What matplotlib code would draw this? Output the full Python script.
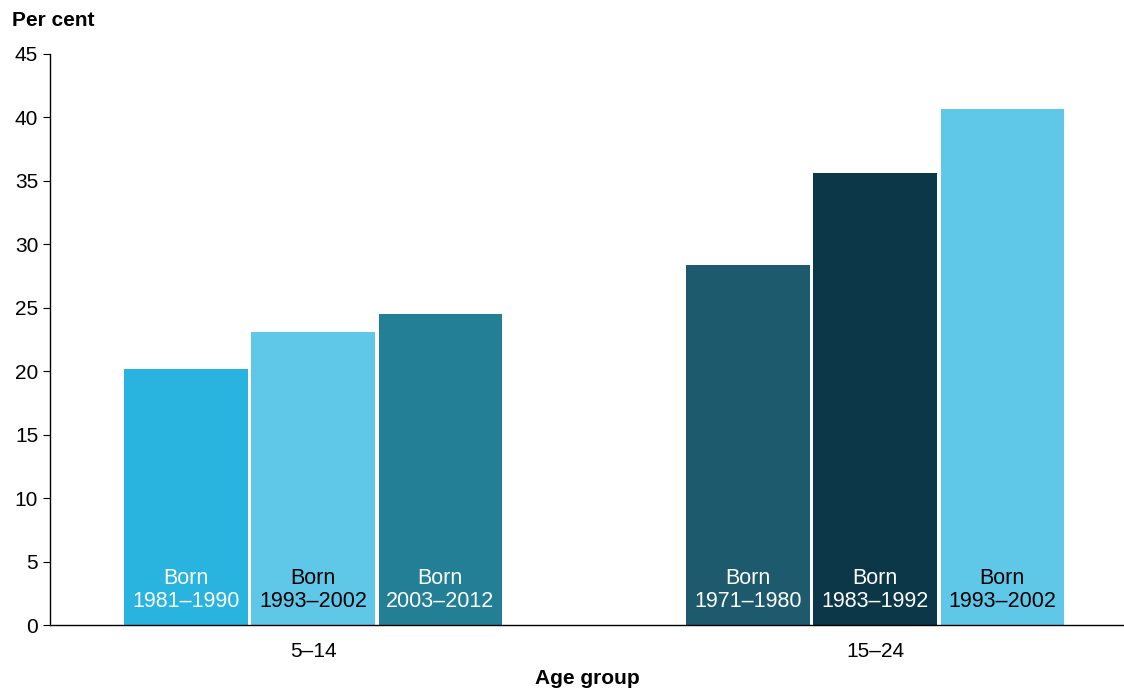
import matplotlib
matplotlib.use("Agg")
import matplotlib.pyplot as plt
import numpy as np

plt.rcParams["font.family"] = ["Liberation Sans", "DejaVu Sans"]

# Дані
age_groups = ["5–14", "15–24"]
cohorts_5_14 = ["Born\n1981–1990", "Born\n1993–2002", "Born\n2003–2012"]
values_5_14 = [20.2, 23.1, 24.5]
cohorts_15_24 = ["Born\n1971–1980", "Born\n1983–1992", "Born\n1993–2002"]
values_15_24 = [28.4, 35.6, 40.7]

colors_5_14 = ["#29B3DF", "#5FC8E8", "#237F96"]
colors_15_24 = ["#1E5A6E", "#0B3748", "#5FC8E8"]
text_5_14 = ["white", "black", "white"]
text_15_24 = ["white", "white", "black"]

fig = plt.figure(figsize=(11.24, 6.91), dpi=100)
ax = fig.add_axes([0.0445, 0.0955, 0.9555, 0.8264])

width = 0.219
pitch = 0.226
groups = [
    (0, cohorts_5_14, values_5_14, colors_5_14, text_5_14),
    (1, cohorts_15_24, values_15_24, colors_15_24, text_15_24),
]
for gx, labels, vals, cols, tcols in groups:
    xs = gx + (np.arange(3) - 1) * pitch
    ax.bar(xs, vals, width=width, color=cols)
    for x, lab, tc in zip(xs, labels, tcols):
        ax.text(x, 2.75, lab, ha="center", va="center", color=tc,
                fontsize=15.5, linespacing=1.1)

ax.set_xlim(-0.468, 1.443)
ax.set_ylim(0, 45)
ax.set_yticks(np.arange(0, 46, 5))
ax.set_xticks([0, 1])
ax.set_xticklabels(age_groups)
ax.tick_params(axis="x", length=0, labelsize=15, pad=12)
ax.tick_params(axis="y", length=5, labelsize=15, direction="out")

for s in ["top", "right"]:
    ax.spines[s].set_visible(False)
ax.spines["left"].set_linewidth(1.0)
ax.spines["bottom"].set_linewidth(1.0)

ax.set_xlabel("Age group", fontsize=15, fontweight="bold", labelpad=6)
fig.text(12 / 1124, 1 - 20 / 691, "Per cent", fontsize=15, fontweight="bold",
         ha="left", va="center")

fig.savefig("out.png", dpi=100)
